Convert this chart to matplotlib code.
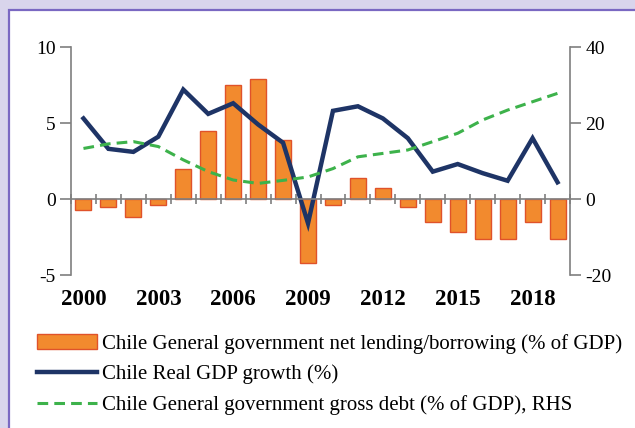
import matplotlib
matplotlib.use("Agg")
import matplotlib.pyplot as plt
from matplotlib.patches import Rectangle
from matplotlib.lines import Line2D
from matplotlib.ticker import FixedLocator
import numpy as np

plt.rcParams['font.family'] = ['Liberation Serif', 'DejaVu Serif']

years = list(range(2000, 2020))
net_lending = [-0.7, -0.5, -1.2, -0.4, 2.0, 4.5, 7.5, 7.9, 3.9, -4.2,
               -0.4, 1.4, 0.7, -0.5, -1.5, -2.2, -2.6, -2.6, -1.5, -2.6]
gdp_growth = [5.3, 3.3, 3.1, 4.1, 7.2, 5.6, 6.3, 4.9, 3.7, -1.6,
              5.8, 6.1, 5.3, 4.0, 1.8, 2.3, 1.7, 1.2, 4.0, 1.1]
gross_debt = [13.3, 14.5, 15.1, 13.8, 10.3, 7.2, 5.0, 4.1, 4.9, 5.8,
              8.0, 11.1, 12.0, 12.9, 15.1, 17.3, 20.8, 23.4, 25.6, 27.8]
xtick_years = [2000, 2003, 2006, 2009, 2012, 2015, 2018]
left_ticks = [-5, 0, 5, 10]
right_ticks = [-20, 0, 20, 40]

labels = ["Chile General government net lending/borrowing (% of GDP)",
          "Chile Real GDP growth (%)",
          "Chile General government gross debt (% of GDP), RHS"]

W, H = 635, 428
fig = plt.figure(figsize=(W / 100, H / 100), dpi=100)
fig.patch.set_facecolor('#d9d5ec')
panel = Rectangle((9 / W, -0.05), 1.2, 1 - 10 / H + 0.05, transform=fig.transFigure,
                  facecolor='white', edgecolor='#7a68c2', linewidth=1.6, zorder=-10)
fig.patches.append(panel)

ax = fig.add_axes([71 / W, 1 - 275 / H, 499 / W, 228 / H])
ax.set_facecolor('none')
ax2 = ax.twinx()

bar_c = '#f28a2e'
edge_c = '#e0522a'
navy = '#1e3466'
green = '#3db24b'
gray = '#7f7f7f'

bars = ax.bar(years, net_lending, width=0.64, color=bar_c, edgecolor=edge_c, linewidth=1.0, zorder=2)
gdp_line, = ax.plot(years, gdp_growth, color=navy, linewidth=3.2, zorder=4, solid_joinstyle='miter')
debt_line, = ax2.plot(years, gross_debt, color=green, linewidth=2.2, dashes=(3.5, 2.0), zorder=3)

ax.set_xlim(1999.5, 2019.5)
ax.set_ylim(-5, 10)
ax2.set_ylim(-20, 40)
ax.set_yticks(left_ticks)
ax2.set_yticks(right_ticks)
ax.set_yticklabels([str(t) for t in left_ticks])
ax2.set_yticklabels([str(t) for t in right_ticks])

for a in (ax, ax2):
    a.spines['top'].set_visible(False)
    for s in ('left', 'right', 'bottom'):
        a.spines[s].set_color(gray)
        a.spines[s].set_linewidth(1.2)
ax2.spines['bottom'].set_visible(False)
ax2.spines['left'].set_visible(False)
ax.spines['right'].set_visible(False)

ax.spines['bottom'].set_position(('data', 0))
ax.spines['bottom'].set_zorder(5)
ax.xaxis.set_major_locator(FixedLocator(xtick_years))
ax.xaxis.set_minor_locator(FixedLocator([y - 0.5 for y in years] + [2019.5]))
ax.tick_params(axis='x', which='major', length=0, labelbottom=False)
ax.tick_params(axis='x', which='minor', direction='inout', length=7, width=1.2, color=gray)

sec = ax.secondary_xaxis('bottom')
sec.set_xticks(xtick_years)
sec.set_xticklabels([str(y) for y in xtick_years], fontweight='bold', fontsize=16.5)
sec.tick_params(length=0, pad=10)
sec.spines['bottom'].set_visible(False)

ax.tick_params(axis='y', direction='out', length=8, width=1.2, color=gray, labelsize=14, pad=3)
ax2.tick_params(axis='y', direction='out', length=8, width=1.2, color=gray, labelsize=14, pad=3)

bar_handle = Rectangle((0, 0), 1, 1, facecolor=bar_c, edgecolor=edge_c, linewidth=1.0)
leg = fig.legend([bar_handle, gdp_line, debt_line], labels,
                 loc='upper left', bbox_to_anchor=(37 / W, 1 - 334 / H),
                 frameon=False, fontsize=15, handlelength=2.9, handletextpad=0.2,
                 labelspacing=0.52, borderaxespad=0, borderpad=0)

fig.savefig('out.png', dpi=100, facecolor=fig.get_facecolor())
